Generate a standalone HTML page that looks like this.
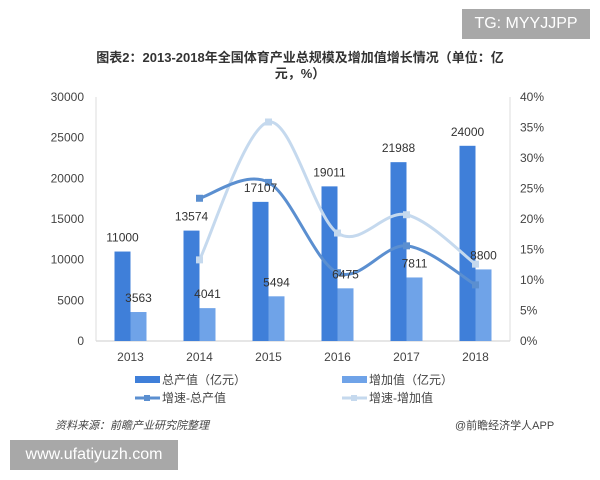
<!DOCTYPE html>
<html><head><meta charset="utf-8"><style>
body{margin:0;background:#fff;width:600px;height:480px;overflow:hidden;position:relative;font-family:"Liberation Sans","Noto Sans CJK SC",sans-serif}
.t{position:absolute}
</style></head><body>
<div class="t" style="left:462px;top:9px;width:128px;height:30px;background:#a8a8a8;color:#fff;font-size:16px;line-height:30px;text-align:center">TG: MYYJJPP</div>
<div class="t" style="left:60px;top:50px;width:480px;text-align:center;font-size:13px;font-weight:bold;color:#333;line-height:16px">图表2：2013-2018年全国体育产业总规模及增加值增长情况（单位：亿<br>元，%）</div>
<svg id="c" width="600" height="480" style="position:absolute;left:0;top:0"></svg>
<div class="t" style="left:55px;top:417px;font-size:11px;font-style:italic;color:#444">资料来源：前瞻产业研究院整理</div>
<div class="t" style="left:455px;top:417px;font-size:11px;color:#444">@前瞻经济学人APP</div>
<div class="t" style="left:10px;top:440px;width:168px;height:30px;background:#a8a8a8;color:#fff;font-size:16px;line-height:30px;text-align:center">www.ufatiyuzh.com</div>
<script>
const years=["2013","2014","2015","2016","2017","2018"];
const totalVals=[11000,13574,17107,19011,21988,24000];
const addedVals=[3563,4041,5494,6475,7811,8800];
const totalGrowth=[null,23.4,26.0,11.2,15.6,9.2];
const addedGrowth=[null,13.3,35.9,17.7,20.7,12.6];
const leftTicks=[0,5000,10000,15000,20000,25000,30000];
const rightTicks=[0,5,10,15,20,25,30,35,40];
const NS="http://www.w3.org/2000/svg",svg=document.getElementById('c');
const x0=96,x1=510,yB=341,yT=97;
const yL=v=>yB-(v/30000)*(yB-yT), yR=v=>yB-(v/40)*(yB-yT);
const step=(x1-x0)/years.length, xc=i=>x0+step*(i+0.5);
function mk(t,a,name){const e=document.createElementNS(NS,t);for(const k in a)e.setAttribute(k,a[k]);svg.appendChild(e);return e;}
function tx(s,x,y,anchor,size,name,fill){const e=mk('text',{x:x,y:y,'text-anchor':anchor,'font-size':size,fill:fill||'#333'},name);e.textContent=s;return e;}
mk('line',{x1:x0,y1:yB,x2:x1,y2:yB,stroke:'#ccc'},'x-axis');
mk('line',{x1:x0,y1:yT,x2:x0,y2:yB,stroke:'#ddd'},'left-axis');
mk('line',{x1:x1,y1:yT,x2:x1,y2:yB,stroke:'#ddd'},'right-axis');
leftTicks.forEach(v=>tx(String(v),84,yL(v)+4,'end',12,'left-tick-label','#444'));
rightTicks.forEach(v=>tx(v+'%',520,yR(v)+4,'start',12,'right-tick-label','#444'));
years.forEach((y,i)=>{
 tx(y,xc(i),361,'middle',12,'x-tick-label','#444');
 mk('rect',{x:xc(i)-16,y:yL(totalVals[i]),width:16,height:yB-yL(totalVals[i]),fill:'#3f7fd9'},'bar-total-'+y);
 mk('rect',{x:xc(i),y:yL(addedVals[i]),width:16,height:yB-yL(addedVals[i]),fill:'#6fa3e8'},'bar-added-'+y);
});
function curve(vals,color,name){
 const p=[];vals.forEach((v,i)=>{if(v!=null)p.push([xc(i),yR(v)]);});
 let d='M'+p[0][0]+','+p[0][1];
 for(let i=0;i<p.length-1;i++){const a=p[Math.max(i-1,0)],b=p[i],c=p[i+1],e=p[Math.min(i+2,p.length-1)];
  d+=` C${b[0]+(c[0]-a[0])/6},${b[1]+(c[1]-a[1])/6} ${c[0]-(e[0]-b[0])/6},${c[1]-(e[1]-b[1])/6} ${c[0]},${c[1]}`;}
 mk('path',{d:d,fill:'none',stroke:color,'stroke-width':3},name+'-line');
 p.forEach(q=>mk('rect',{x:q[0]-3.5,y:q[1]-3.5,width:7,height:7,fill:color},name+'-marker'));
}
curve(addedGrowth,'#c5d9ee','growth-added');
curve(totalGrowth,'#5b8fd0','growth-total');
years.forEach((y,i)=>{
 tx(String(totalVals[i]),xc(i)-8,yL(totalVals[i])-10,'middle',12,'label-total');
 tx(String(addedVals[i]),xc(i)+8,yL(addedVals[i])-10,'middle',12,'label-added');
});
mk('rect',{x:135,y:376,width:25,height:7,fill:'#3f7fd9'},'legend-swatch-total');
tx('总产值（亿元）',162,384,'start',12,'legend-total','#444');
mk('rect',{x:342,y:376,width:25,height:7,fill:'#6fa3e8'},'legend-swatch-added');
tx('增加值（亿元）',369,384,'start',12,'legend-added','#444');
mk('line',{x1:135,y1:398,x2:160,y2:398,stroke:'#5b8fd0','stroke-width':3},'legend-swatch-growth-total');
mk('rect',{x:144,y:395,width:6,height:6,fill:'#5b8fd0'},'legend-marker-growth-total');
tx('增速-总产值',162,402,'start',12,'legend-growth-total','#444');
mk('line',{x1:342,y1:398,x2:367,y2:398,stroke:'#c5d9ee','stroke-width':3},'legend-swatch-growth-added');
mk('rect',{x:351,y:395,width:6,height:6,fill:'#c5d9ee'},'legend-marker-growth-added');
tx('增速-增加值',369,402,'start',12,'legend-growth-added','#444');
</script>
</body></html>
